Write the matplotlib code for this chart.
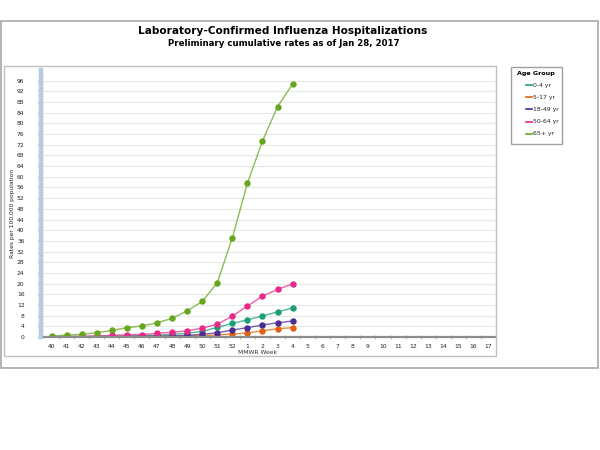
import matplotlib
matplotlib.use("Agg")
import matplotlib.pyplot as plt
from matplotlib.patches import Rectangle

# MMWR weeks shown on the x axis
weeks = ['40', '41', '42', '43', '44', '45', '46', '47', '48', '49', '50', '51', '52',
         '1', '2', '3', '4', '5', '6', '7', '8', '9', '10', '11', '12', '13', '14', '15', '16', '17']

# cumulative rates per 100,000, weeks 40..4 (season to date)
age_groups = ['0-4 yr', '5-17 yr', '18-49 yr', '50-64 yr', '65+ yr']
rate_0_4 = [0.0, 0.1, 0.1, 0.2, 0.3, 0.4, 0.5, 0.7, 1.0, 1.4, 2.1, 3.6, 5.1, 6.4, 7.9, 9.4, 10.9]
rate_5_17 = [0.0, 0.0, 0.0, 0.1, 0.1, 0.1, 0.2, 0.2, 0.3, 0.4, 0.5, 0.8, 1.1, 1.5, 2.3, 3.1, 3.5]
rate_18_49 = [0.0, 0.0, 0.1, 0.1, 0.1, 0.2, 0.2, 0.3, 0.4, 0.6, 1.0, 1.6, 2.6, 3.5, 4.5, 5.3, 6.0]
rate_50_64 = [0.1, 0.2, 0.3, 0.4, 0.6, 0.8, 0.9, 1.4, 1.8, 2.3, 3.3, 4.8, 7.8, 11.6, 15.3, 17.8, 19.9]
rate_65 = [0.3, 0.75, 1.0, 1.6, 2.5, 3.5, 4.1, 5.3, 7.0, 9.8, 13.3, 20.3, 37.1, 57.6, 73.4, 86.3, 94.7]

series = [rate_0_4, rate_5_17, rate_18_49, rate_50_64, rate_65]
colors = ['#1b9e77', '#e0620e', '#4b2c91', '#e7298a', '#66a61e']

W, H = 600, 450
fig = plt.figure(figsize=(6, 4.5), dpi=100)

def px(x0, y0, x1, y1):
    # pixel box -> figure fraction [l, b, w, h]
    return [x0 / W, 1 - y1 / H, (x1 - x0) / W, (y1 - y0) / H]

# outer frame and inner chart frame
fig.patches.append(Rectangle((1 / W, 1 - 368 / H), 597 / W, 347 / H, transform=fig.transFigure,
                             fill=False, edgecolor='#a8a8a8', linewidth=1.2))
fig.patches.append(Rectangle((4 / W, 1 - 356 / H), 492 / W, 290 / H, transform=fig.transFigure,
                             fill=False, edgecolor='#c0c0c0', linewidth=1.0))

fig.text(283 / W, 1 - 31 / H, 'Laboratory-Confirmed Influenza Hospitalizations',
         ha='center', va='center', fontsize=7.6, fontweight='bold')
fig.text(284 / W, 1 - 44 / H, 'Preliminary cumulative rates as of Jan 28, 2017',
         ha='center', va='center', fontsize=6.2, fontweight='bold')

ax = fig.add_axes(px(44, 70, 496, 337))
x = list(range(len(weeks)))
for vals, c, lab in zip(series, colors, age_groups):
    xs = x[:len(vals)]
    ax.plot(xs, vals, color=c, alpha=0.75, linewidth=1.0, label=lab)
    ax.plot(xs, vals, linestyle='none', marker='o', markersize=3.6, color=c)

ax.set_xlim(-0.5, len(weeks) - 0.5)
ax.set_ylim(0, 100)
ax.set_yticks(range(0, 97, 4))
ax.set_xticks(x)
ax.set_xticklabels(weeks)
ax.set_xticks([i + 0.5 for i in x], minor=True)
ax.tick_params(axis='x', which='major', length=0, labelsize=4.3, pad=5, labelcolor='#222222')
ax.tick_params(axis='x', which='minor', length=3, direction='inout', color='#c8c86e', width=0.8)
ax.tick_params(axis='y', length=3, color='#c5d6e8', labelsize=4.3, pad=9, labelcolor='#222222')
ax.grid(axis='y', color='#e3eae3', linewidth=0.8)
ax.set_axisbelow(True)

for s in ['top', 'right']:
    ax.spines[s].set_visible(False)
ax.spines['bottom'].set_color('#8c8c8c')
ax.spines['bottom'].set_linewidth(1.6)
ax.spines['left'].set_color('#b7cbe0')
ax.spines['left'].set_linewidth(3.2)
ax.spines['left'].set_position(('outward', 2))
ax.spines['left'].set_linestyle((0, (1.3, 0.25)))

fig.text(13 / W, 1 - 213 / H, 'Rates per 100,000 population', rotation=90,
         ha='center', va='center', fontsize=4.3, color='#222222')
fig.text(258 / W, 1 - 352 / H, 'MMWR Week', ha='center', va='center', fontsize=4.3, color='#333333')

# legend box
fig.patches.append(Rectangle((511 / W, 1 - 144 / H), 51 / W, 77 / H, transform=fig.transFigure,
                             facecolor='white', edgecolor='#a0a0a0', linewidth=1.0))
fig.text(517 / W, 1 - 73 / H, 'Age Group', ha='left', va='center', fontsize=4.6, fontweight='bold')
for i, (lab, c) in enumerate(zip(age_groups, colors)):
    yy = 1 - (85 + i * 12.2) / H
    fig.add_artist(plt.Line2D([526 / W, 532 / W], [yy, yy], transform=fig.transFigure,
                              color=c, linewidth=1.2))
    fig.text(533 / W, yy, lab, ha='left', va='center', fontsize=4.4, color='#222222')

fig.savefig('out.png', dpi=100)
